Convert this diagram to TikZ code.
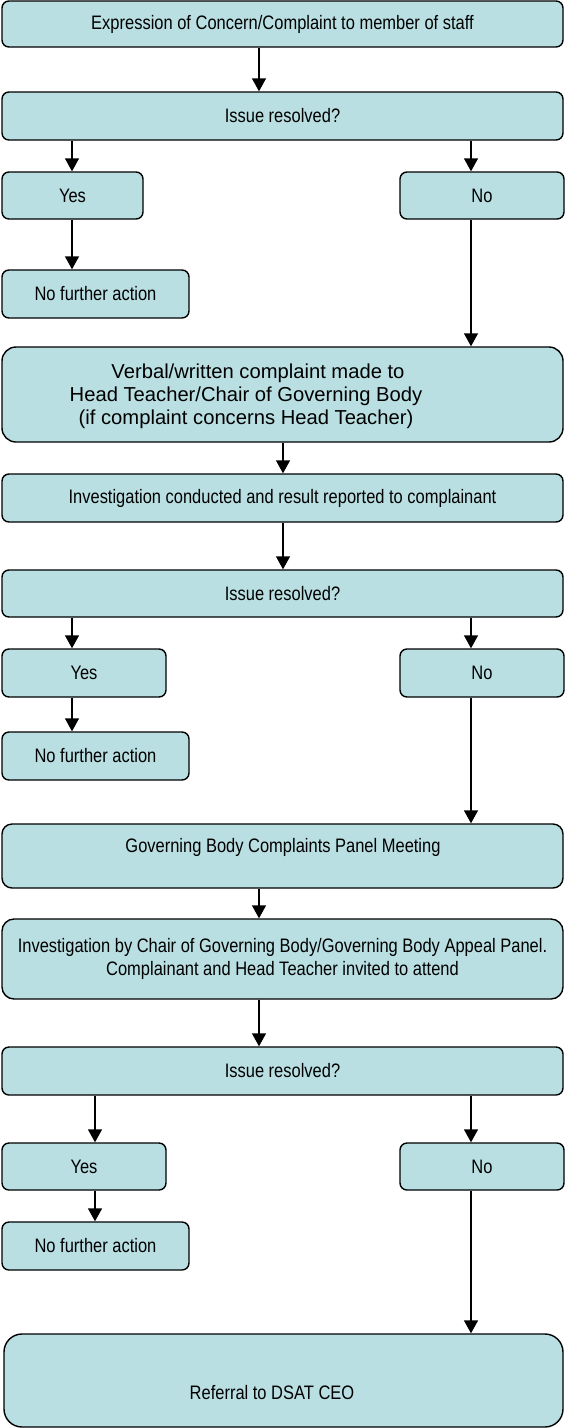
\documentclass[tikz,border=0pt]{standalone}
\usepackage{fontspec}
\setmainfont{Liberation Sans}
\newfontfamily\narrowfont[FakeStretch=0.845]{Liberation Sans}
\usetikzlibrary{arrows.meta}
\definecolor{boxfill}{RGB}{185,223,226}
\tikzset{
  box/.style={draw=black, line width=1.4pt, fill=boxfill, rounded corners=7pt,
    inner sep=0pt, font=\narrowfont\fontsize{19.5}{23}\selectfont, align=center},
  plain/.style={inner sep=0pt, font=\narrowfont\fontsize{19.5}{23}\selectfont, align=center},
  wide/.style={inner sep=0pt, font=\fontsize{20.2}{23}\selectfont, align=center},
  arr/.style={line width=1.4pt, -{Triangle[length=13pt,width=14pt]}},
}
\begin{document}
\begin{tikzpicture}[x=1pt,y=-1pt]
\useasboundingbox (0,0) rectangle (565,1428);
\coordinate (xa) at (259,0);
\coordinate (xb) at (283,0);
\coordinate (xl) at (72,0);
\coordinate (xl3) at (95,0);
\coordinate (xr) at (471,0);

% section 1
\node[box, minimum width=561pt, minimum height=46pt] (b1) at (282.5,24) {Expression of Concern/Complaint to member of staff};
\node[box, minimum width=561pt, minimum height=48pt] (q1) at (282.5,116) {Issue resolved?};
\node[box, minimum width=141pt, minimum height=47pt] (y1) at (72.5,195.5) {Yes};
\node[box, minimum width=164pt, minimum height=47pt] (n1) at (482,195.5) {No};
\node[box, minimum width=187pt, minimum height=48pt] (f1) at (95.5,294) {No further action};
\node[box, rounded corners=14pt, minimum width=561pt, minimum height=95pt] (v) at (282.5,394.5) {};
\node[wide] (vt) at (246,396) {\hspace*{24pt}Verbal/written complaint made to\\Head Teacher/Chair of Governing Body\\(if complaint concerns Head Teacher)};

% section 2
\node[box, minimum width=561pt, minimum height=48pt] (i1) at (282.5,498) {Investigation conducted and result reported to complainant};
\node[box, minimum width=561pt, minimum height=47pt] (q2) at (282.5,593.5) {Issue resolved?};
\node[box, minimum width=164pt, minimum height=48pt] (y2) at (84,673) {Yes};
\node[box, minimum width=164pt, minimum height=48pt] (n2) at (482,673) {No};
\node[box, minimum width=187pt, minimum height=48pt] (f2) at (95.5,756) {No further action};
\node[box, rounded corners=10pt, minimum width=561pt, minimum height=64pt] (g) at (282.5,856) {};
\node[plain] (gt) at (283,847) {Governing Body Complaints Panel Meeting};

% section 3
\node[box, rounded corners=12pt, minimum width=561pt, minimum height=80pt] (ic) at (282.5,959) {Investigation by Chair of Governing Body/Governing Body Appeal Panel.\\Complainant and Head Teacher invited to attend};
\node[box, minimum width=561pt, minimum height=48pt] (q3) at (282.5,1071) {Issue resolved?};
\node[box, minimum width=164pt, minimum height=47pt] (y3) at (84,1166.5) {Yes};
\node[box, minimum width=164pt, minimum height=47pt] (n3) at (482,1166.5) {No};
\node[box, minimum width=187pt, minimum height=48pt] (f3) at (95.5,1246) {No further action};
\node[box, rounded corners=18pt, minimum width=559pt, minimum height=93pt] (r) at (283.5,1380.5) {};
\node[plain] (rt) at (272,1393) {Referral to DSAT CEO};

% arrows
\draw[arr] (b1.south -| xa) -- (q1.north -| xa);
\draw[arr] (q1.south -| xl) -- (y1.north -| xl);
\draw[arr] (q1.south -| xr) -- (n1.north -| xr);
\draw[arr] (y1.south -| xl) -- (f1.north -| xl);
\draw[arr] (n1.south -| xr) -- (v.north -| xr);
\draw[arr] (v.south -| xb) -- (i1.north -| xb);
\draw[arr] (i1.south -| xb) -- (q2.north -| xb);
\draw[arr] (q2.south -| xl) -- (y2.north -| xl);
\draw[arr] (q2.south -| xr) -- (n2.north -| xr);
\draw[arr] (y2.south -| xl) -- (f2.north -| xl);
\draw[arr] (n2.south -| xr) -- (g.north -| xr);
\draw[arr] (g.south -| xa) -- (ic.north -| xa);
\draw[arr] (ic.south -| xa) -- (q3.north -| xa);
\draw[arr] (q3.south -| xl3) -- (y3.north -| xl3);
\draw[arr] (q3.south -| xr) -- (n3.north -| xr);
\draw[arr] (y3.south -| xl3) -- (f3.north -| xl3);
\draw[arr] (n3.south -| xr) -- (r.north -| xr);
\end{tikzpicture}
\end{document}
